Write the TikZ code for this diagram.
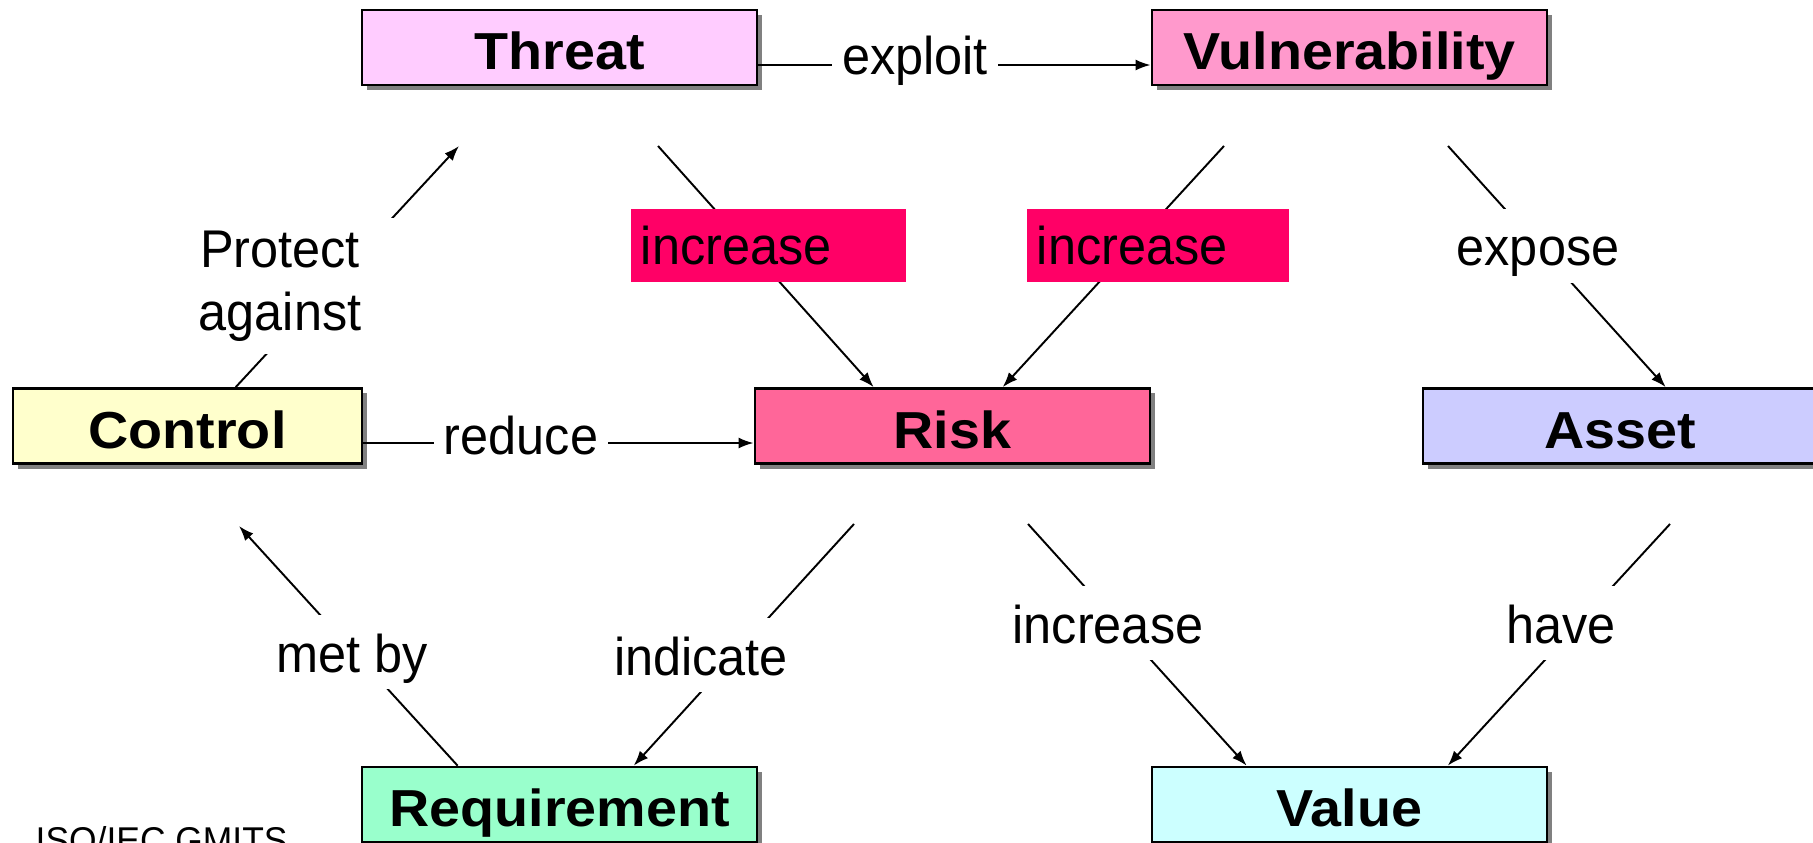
\documentclass[tikz,border=0pt]{standalone}
\usepackage{fontspec}
\usetikzlibrary{arrows.meta,shadows}
\newfontfamily\boxfont[FakeStretch=1.07]{Liberation Sans}
\newfontfamily\lblfont[FakeStretch=0.95]{Liberation Sans}
\definecolor{threatc}{RGB}{255,204,255}
\definecolor{vulnc}{RGB}{255,153,204}
\definecolor{controlc}{RGB}{255,255,204}
\definecolor{riskc}{RGB}{255,102,153}
\definecolor{assetc}{RGB}{204,204,255}
\definecolor{reqc}{RGB}{153,255,204}
\definecolor{valuec}{RGB}{204,255,255}
\definecolor{incred}{RGB}{255,0,102}

\begin{document}
\begin{tikzpicture}[x=0.01cm,y=-0.01cm,
                        entity/.style={draw, line width=0.75pt, minimum width=3.95cm, minimum height=0.75cm, inner sep=0pt,
                            text height=0.47cm, text depth=0.03cm,
                            font=\boxfont\bfseries\fontsize{14.8}{17}\selectfont,
                            drop shadow={shadow xshift=0.05cm, shadow yshift=-0.05cm, fill=black!50, opacity=1}},
                        rel/.style={line width=0.55pt, -{Latex[length=0.15cm,width=0.11cm]}},
                        lbltext/.style={fill=white, inner xsep=0.06cm, inner ysep=0.03cm, font=\lblfont\fontsize{15.1}{17.9}\selectfont},
                        lbl/.style={lbltext, text height=0.54cm, text depth=0.14cm},
                        hilite/.style={fill=incred, inner xsep=0.1cm, inner ysep=0pt, minimum height=0.73cm, align=left,
                            font=\lblfont\fontsize{15.1}{17.9}\selectfont}]
                        \useasboundingbox (0,0) rectangle (1813,843);
                        \node[entity, fill=threatc] (threat) at (559.5,47.5) {Threat};
                        \node[entity, fill=vulnc] (vuln) at (1349.5,47.5) {Vulnerability};
                        \node[entity, fill=controlc, minimum width=3.49cm] (control) at (187.5,426) {Control};
                        \node[entity, fill=riskc] (risk) at (952.5,426) {Risk};
                        \node[entity, fill=assetc] (asset) at (1620.5,426) {Asset};
                        \node[entity, fill=reqc] (req) at (559.5,804.5) {Requirement};
                        \node[entity, fill=valuec] (value) at (1349.5,804.5) {Value};
                        \coordinate (thr-out) at (658,146);
                        \coordinate (vul-out1) at (1224,146);
                        \coordinate (vul-out2) at (1448,146);
                        \coordinate (thr-in) at (459,146);
                        \coordinate (ris-out1) at (854,524);
                        \coordinate (ris-out2) at (1028,524);
                        \coordinate (ctl-in) at (239,526);
                        \coordinate (ast-out) at (1670,524);
                        \draw[rel] ([yshift=-0.175cm]threat.east) -- ([yshift=-0.175cm]vuln.west);
                        \draw[rel] (thr-out) -- ([xshift=1.2cm]risk.north west);
                        \draw[rel] (vul-out1) -- ([xshift=2.49cm]risk.north west);
                        \draw[rel] (vul-out2) -- ([xshift=2.44cm]asset.north west);
                        \draw[rel] ([xshift=2.24cm]control.north west) -- (thr-in);
                        \draw[rel] ([yshift=-0.17cm]control.east) -- ([yshift=-0.17cm]risk.west);
                        \draw[rel] (ris-out1) -- ([xshift=2.73cm]req.north west);
                        \draw[rel] ([xshift=0.97cm]req.north west) -- (ctl-in);
                        \draw[rel] (ris-out2) -- ([xshift=0.96cm]value.north west);
                        \draw[rel] (ast-out) -- ([xshift=2.97cm]value.north west);
                        \node[lbltext, anchor=base, inner xsep=0.1cm] (exploit) at (915,75) {exploit};
                        \node[hilite, text width=2.55cm] (incr1) at (768.5,245.5) {increase};
                        \node[hilite, text width=2.42cm] (incr2) at (1158,245.5) {increase};
                        \node[lbl, anchor=base] (expose) at (1538,266) {expose};
                        \node[lbltext, align=center, minimum width=2.6cm, minimum height=1.35cm] (protect) at (280,286) {Protect\\against};
                        \node[lbltext, anchor=base, inner xsep=0.1cm] (reduce) at (521,454) {reduce};
                        \node[lbl, anchor=base] (metby) at (352,672) {met by};
                        \node[lbl, anchor=base] (indicate) at (701,675) {indicate};
                        \node[lbl, anchor=base] (incr3) at (1108,643) {increase};
                        \node[lbl, anchor=base] (have) at (1561,643) {have};
                        \node[anchor=base west, inner sep=0pt, font=\lblfont\fontsize{10.6}{12}\selectfont] (source) at (35,853) {ISO/IEC GMITS};
                    \end{tikzpicture}
\end{document}
